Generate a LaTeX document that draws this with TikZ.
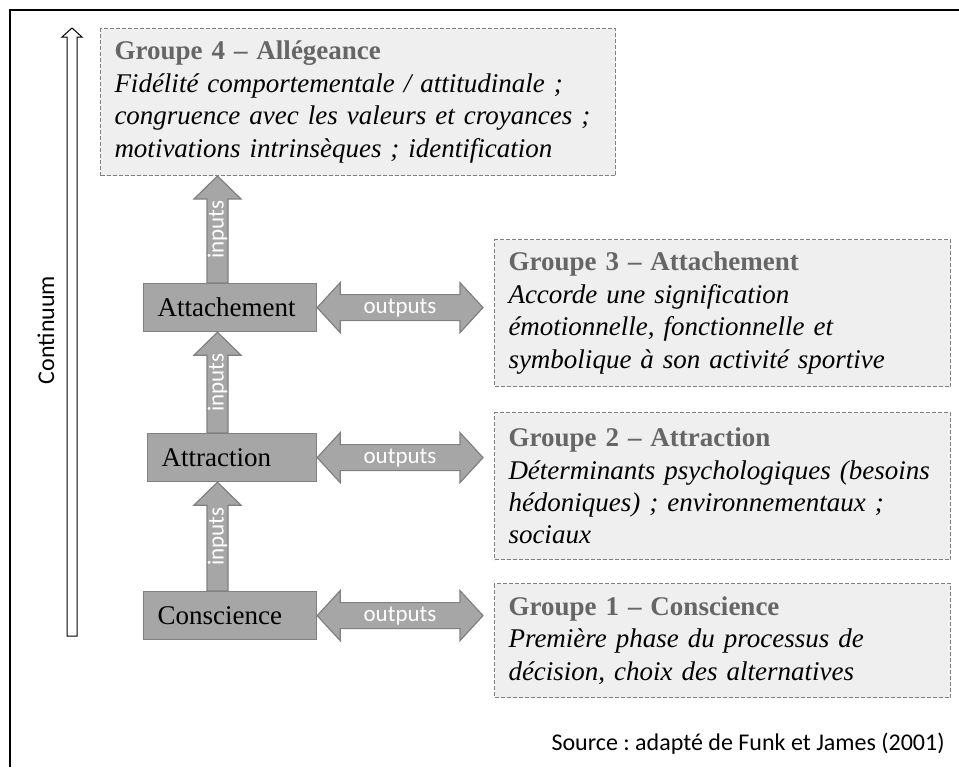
\documentclass[tikz,border=0pt]{standalone}
\usepackage{fontspec}
\setmainfont{Liberation Serif}
\newfontfamily\calibri{Carlito}
\usepackage{xcolor}
\usepackage{tikz}
\usetikzlibrary{calc}
\frenchspacing

\definecolor{boxgray}{RGB}{166,166,166}
\definecolor{edgegray}{RGB}{128,128,128}
\definecolor{panelgray}{RGB}{239,239,239}
\definecolor{titlegray}{RGB}{102,102,102}

\tikzset{
  stage/.style={draw=edgegray, fill=boxgray, line width=0.6pt, anchor=north west,
    minimum height=24pt, inner xsep=7pt, inner ysep=0pt, align=left,
    font=\fontsize{13.5}{16}\selectfont},
  group/.style={draw=edgegray, dashed, dash pattern=on 2pt off 1pt, line width=0.5pt,
    fill=panelgray, anchor=north west, inner xsep=7pt, inner ysep=0pt, align=left,
    minimum height=73.5pt, font=\fontsize{13.5}{16.2}\selectfont},
  inarrow/.style={draw=edgegray, fill=boxgray, line width=0.6pt,
    to path={let \p1=(\tikztostart), \p2=(\tikztotarget) in
      (\x1-5.25pt,\y1) -- (\x1-5.25pt,\y2-11.5pt) -- (\x1-11.75pt,\y2-11.5pt) -- (\x1,\y2)
      -- (\x1+11.75pt,\y2-11.5pt) -- (\x1+5.25pt,\y2-11.5pt) -- (\x1+5.25pt,\y1) -- cycle}},
  outarrow/.style={draw=edgegray, fill=boxgray, line width=0.6pt,
    to path={let \p1=(\tikztostart), \p2=(\tikztotarget) in
      (\x1,\y1) -- (\x1+11.5pt,\y1+12.5pt) -- (\x1+11.5pt,\y1+6.5pt) -- (\x2-11.5pt,\y1+6.5pt)
      -- (\x2-11.5pt,\y1+12.5pt) -- (\x2,\y1) -- (\x2-11.5pt,\y1-12.5pt) -- (\x2-11.5pt,\y1-6.5pt)
      -- (\x1+11.5pt,\y1-6.5pt) -- (\x1+11.5pt,\y1-12.5pt) -- cycle}},
  contarrow/.style={draw=black, fill=white, line width=0.5pt,
    to path={let \p1=(\tikztostart), \p2=(\tikztotarget) in
      (\x1-2.5pt,\y1) -- (\x1-2.5pt,\y2-4.5pt) -- (\x1-5pt,\y2-4.5pt) -- (\x1,\y2)
      -- (\x1+5pt,\y2-4.5pt) -- (\x1+2.5pt,\y2-4.5pt) -- (\x1+2.5pt,\y1) -- cycle}},
  arrowtext/.style={text=white, inner sep=0pt, font=\calibri\fontsize{11.5}{13}\selectfont}
}

\begin{document}
\begin{tikzpicture}[x=0.5pt, y=-0.5pt]
    \useasboundingbox (0,0) rectangle (959,767);
    \fill[white] (0,0) rectangle (959,767);

    % Cadre
    \draw[line width=1.2pt] (10,767) -- (10,10) -- (959,10);

    % Le continuum
    \coordinate (cbot) at (72,636);
    \coordinate (ctop) at (72,28);
    \draw[contarrow] (cbot) to (ctop);
    \node[rotate=90, font=\calibri\fontsize{12}{14}\selectfont] (cont) at (46,330) {Continuum};

    % Les groupes
    \node[group, text width=243.5pt] (g4) at (100,28)
      {{\bfseries\color{titlegray}Groupe 4 – Allégeance}\\
       \textit{Fidélité comportementale / attitudinale ;}\\
       \textit{congruence avec les valeurs et croyances ;}\\
       \textit{motivations intrinsèques ; identification}};
    \node[group, text width=214pt] (g3) at (494,239)
      {{\bfseries\color{titlegray}Groupe 3 – Attachement}\\
       \textit{Accorde une signification}\\
       \textit{émotionnelle, fonctionnelle et}\\
       \textit{symbolique à son activité sportive}};
    \node[group, text width=214pt] (g2) at (494,412)
      {{\bfseries\color{titlegray}Groupe 2 – Attraction}\\
       \textit{Déterminants psychologiques (besoins}\\
       \textit{hédoniques) ; environnementaux ;}\\
       \textit{sociaux}};
    \node[group, text width=214pt, minimum height=57pt] (g1) at (494,583)
      {{\bfseries\color{titlegray}Groupe 1 – Conscience}\\
       \textit{Première phase du processus de}\\
       \textit{décision, choix des alternatives}};

    % Les etapes
    \node[stage, text width=72.5pt] (attach) at (143,283) {Attachement};
    \node[stage, text width=70.5pt] (attr) at (147,433) {Attraction};
    \node[stage, text width=72.5pt] (consc) at (143,591) {Conscience};

    % Inputs
    \coordinate (incol) at (217.5,0);
    \draw[inarrow] (consc.north -| incol) to (attr.south -| incol);
    \draw[inarrow] (attr.north -| incol) to (attach.south -| incol);
    \draw[inarrow] (attach.north -| incol) to (g4.south -| incol);
    \node[arrowtext, rotate=90] (in1) at ($(consc.north -| incol)!0.5!(attr.south -| incol)$) {inputs};
    \node[arrowtext, rotate=90] (in2) at ($(attr.north -| incol)!0.5!(attach.south -| incol)$) {inputs};
    \node[arrowtext, rotate=90] (in3) at ($(attach.north -| incol)!0.5!(g4.south -| incol)$) {inputs};

    % Outputs
    \coordinate (outcol) at (400,0);
    \draw[outarrow] (attach.east) to ([xshift=-5.5pt]g3.west);
    \draw[outarrow] (attr.east) to ([xshift=-5.5pt]g2.west);
    \draw[outarrow] (consc.east) to ([xshift=-5.5pt]g1.west);
    \node[arrowtext] (out3) at (attach.east -| outcol) {outputs};
    \node[arrowtext] (out2) at (attr.east -| outcol) {outputs};
    \node[arrowtext] (out1) at (consc.east -| outcol) {outputs};

    % Source
    \node[anchor=base east, inner sep=0pt, font=\calibri\fontsize{12}{14}\selectfont] (src) at (945,750)
      {Source : adapté de Funk et James (2001)};
\end{tikzpicture}
\end{document}
